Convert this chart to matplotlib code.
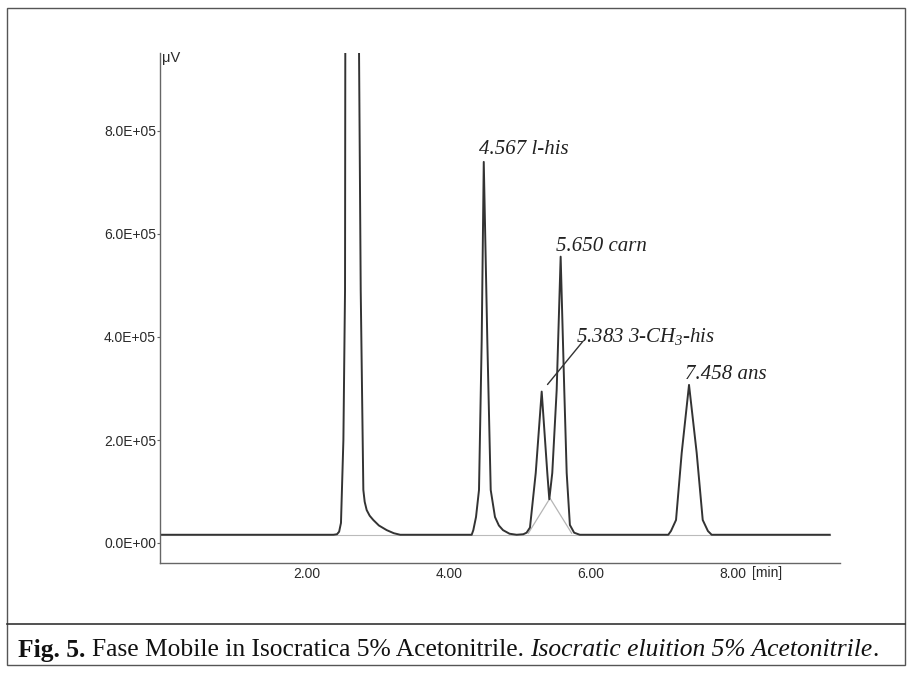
import matplotlib
matplotlib.use('Agg')
import matplotlib.pyplot as plt
from matplotlib.transforms import ScaledTranslation
from matplotlib.lines import Line2D
from matplotlib.patches import Rectangle

# ---------------- data ----------------
trace_time = [0.00, 2.45, 2.50, 2.53, 2.556, 2.59, 2.613, 2.617, 2.71, 2.81, 2.834,
              2.871, 2.89, 2.918, 2.96, 3.011, 3.09, 3.20, 3.30, 3.39,
              4.397, 4.42, 4.458, 4.500, 4.538, 4.567, 4.617, 4.665, 4.725, 4.78, 4.838, 4.93, 5.03,
              5.124, 5.17, 5.218, 5.299, 5.383, 5.462, 5.490, 5.532, 5.594, 5.650, 5.701, 5.735,
              5.78, 5.84, 5.92,
              7.166, 7.204, 7.275, 7.355, 7.458, 7.566, 7.651, 7.724, 7.777, 9.44]
trace_signal = [1.6e4, 1.6e4, 1.7e4, 2.2e4, 3.9e4, 2.0e5, 4.9e5, 9.6e5, 1.6e6, 9.6e5, 4.91e5,
                1.03e5, 8.0e4, 6.4e4, 5.3e4, 4.47e4, 3.4e4, 2.5e4, 1.9e4, 1.6e4,
                1.6e4, 2.5e4, 5.05e4, 1.03e5, 3.94e5, 7.40e5, 3.94e5, 1.03e5, 5.05e4, 3.4e4, 2.5e4, 1.8e4, 1.6e4,
                1.7e4, 2.0e4, 3.0e4, 1.36e5, 2.94e5, 1.36e5, 8.5e4, 1.36e5, 2.97e5, 5.56e5, 2.97e5, 1.36e5,
                3.5e4, 2.0e4, 1.6e4,
                1.6e4, 2.33e4, 4.47e4, 1.75e5, 3.07e5, 1.75e5, 4.47e4, 2.33e4, 1.6e4, 1.6e4]

skim_time = [5.195, 5.50, 5.805]
skim_signal = [1.9e4, 8.7e4, 1.9e4]
baseline_level = 1.6e4

peak_times = [4.567, 5.383, 5.650, 7.458]
peak_heights = [7.40e5, 2.94e5, 5.56e5, 3.07e5]
peak_names = ['l-his', '3-CH$\\mathregular{_3}$-his', 'carn', 'ans']

y_ticks = [0, 2e5, 4e5, 6e5, 8e5]
y_tick_labels = ['0.0E+00', '2.0E+05', '4.0E+05', '6.0E+05', '8.0E+05']
x_ticks = [2, 4, 6, 8]
x_tick_labels = ['2.00', '4.00', '6.00', '8.00']
y_unit = 'μV'
x_unit = '[min]'
caption_parts = [('Fig. 5.', 'bold', 'normal'),
                 ('Fase Mobile in Isocratica 5% Acetonitrile.', 'normal', 'normal'),
                 ('Isocratic eluition 5% Acetonitrile', 'normal', 'italic'),
                 ('.', 'normal', 'normal')]

# ---------------- layout ----------------
W, H = 907, 673
fig = plt.figure(figsize=(W / 100, H / 100), dpi=100)


def fx(px):
    return px / W


def fy(py):
    return 1 - py / H


X0, XPPM = 159.5, 71.0        # pixel of t=0, pixels per minute
Y0, YPPU = 543.0, 51.5e-5     # pixel of 0 signal, pixels per unit
AX_L, AX_R, AX_T, AX_B = 159.5, 840, 53, 563

ax = fig.add_axes([fx(AX_L), fy(AX_B), fx(AX_R) - fx(AX_L), fy(AX_T) - fy(AX_B)])
ax.set_xlim((AX_L - X0) / XPPM, (AX_R - X0) / XPPM)
ax.set_ylim(-(AX_B - Y0) / YPPU, (Y0 - AX_T) / YPPU)
ax.set_facecolor('none')

for s in ['top', 'right']:
    ax.spines[s].set_visible(False)
for s in ['left', 'bottom']:
    ax.spines[s].set_color('#666666')
    ax.spines[s].set_linewidth(1.0)

ink = '#333333'
ax.plot([trace_time[0], trace_time[-1]], [baseline_level, baseline_level],
        color='#bbbbbb', lw=0.8, zorder=1)
ax.plot(skim_time, skim_signal, color='#b5b5b5', lw=0.9, zorder=1)
ax.plot(trace_time, trace_signal, color=ink, lw=1.4, zorder=2, solid_joinstyle='round')

# tick labels
ax.set_yticks(y_ticks, y_tick_labels)
ax.set_xticks(x_ticks, x_tick_labels)
ax.tick_params(axis='y', length=2, width=0.8, color='#666666', pad=0.5,
               labelsize=10, labelcolor='#2a2a2a')
ax.tick_params(axis='x', length=0, pad=3, labelsize=10, labelcolor='#2a2a2a')
for lab in ax.get_yticklabels() + ax.get_xticklabels():
    lab.set_family('Liberation Sans')
for lab in ax.get_xticklabels():
    lab.set_transform(lab.get_transform() + ScaledTranslation(5.5 / 100, 0, fig.dpi_scale_trans))

fig.text(fx(752), fy(573), x_unit, ha='left', va='center', fontsize=10,
         color='#2a2a2a', family='Liberation Sans')
fig.text(fx(162), fy(58), y_unit, ha='left', va='center', fontsize=10.5,
         color='#2a2a2a', family='Liberation Sans')

# peak annotations (offsets in pixels from apex)
label_offsets = {0: (-5, 12), 1: (34, 55), 2: (-5, 10), 3: (-4, 10)}
for i, (t, h, n) in enumerate(zip(peak_times, peak_heights, peak_names)):
    dx, dy = label_offsets[i]
    ax.annotate(f'{t:.3f} {n}', xy=(t, h), xytext=(dx, dy), textcoords='offset pixels',
                ha='left', va='center', fontsize=15, fontstyle='italic',
                family='Liberation Serif', color='#222222')
# leader line for 3-CH3-his
ax.annotate('', xy=(peak_times[1], peak_heights[1]), xytext=(41, 50),
            textcoords='offset pixels',
            arrowprops=dict(arrowstyle='-', color='#333333', lw=1.0,
                            shrinkA=0, shrinkB=6.6))

# ---------------- frame and caption ----------------
fig.add_artist(Rectangle((fx(7), fy(665)), fx(905) - fx(7), fy(8) - fy(665),
                         transform=fig.transFigure, fill=False, ec='#555555', lw=1.0))
fig.add_artist(Line2D([fx(7), fx(905)], [fy(624), fy(624)], transform=fig.transFigure,
                      color='#333333', lw=1.2))

renderer = fig.canvas.get_renderer()
cap_x0, cap_x1, cap_y = 18, 880, 650


def draw_caption(size, keep):
    x = cap_x0
    arts = []
    for j, (s, wgt, sty) in enumerate(caption_parts):
        t = fig.text(fx(x), fy(cap_y), s, fontsize=size, fontweight=wgt, fontstyle=sty,
                     family='Liberation Serif', ha='left', va='center', color='#111111')
        bb = t.get_window_extent(renderer)
        arts.append(t)
        x = bb.x1
        if j < len(caption_parts) - 2:
            x += 0.25 * size * 100 / 72
    if not keep:
        for a in arts:
            a.remove()
    return x - cap_x0


w10 = draw_caption(10, False)
draw_caption(10 * (cap_x1 - cap_x0) / w10, True)

fig.savefig('out.png', dpi=100)
